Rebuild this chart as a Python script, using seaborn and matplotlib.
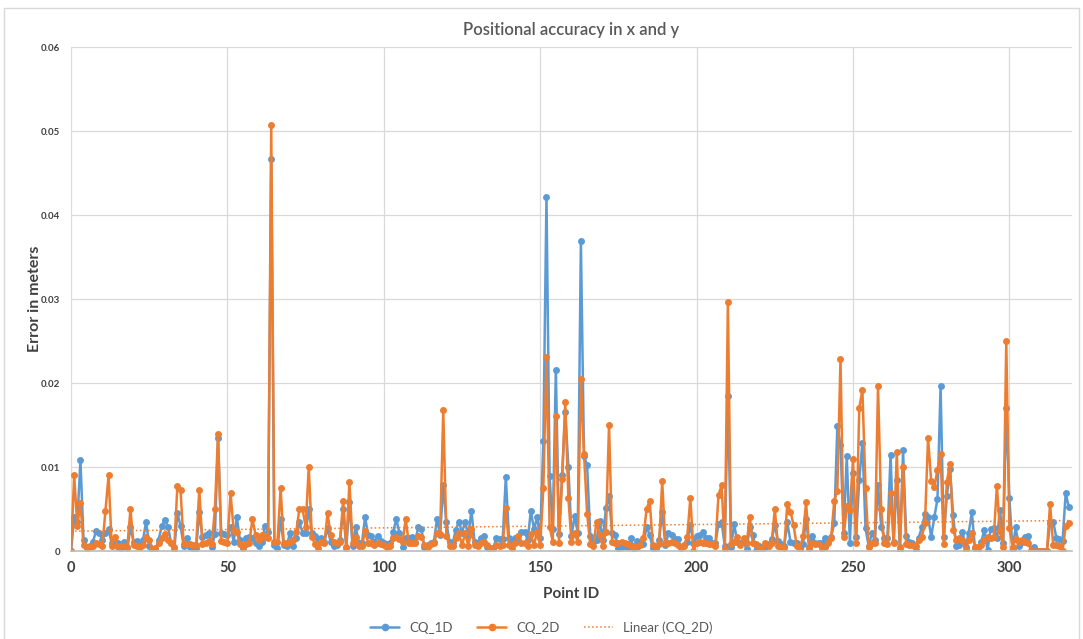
import numpy as np
import pandas as pd
import matplotlib
matplotlib.use("Agg")
import matplotlib.pyplot as plt
import seaborn as sns
from matplotlib.lines import Line2D
from matplotlib.patches import Rectangle
from matplotlib.ticker import FuncFormatter, MultipleLocator

sns.set_theme(style="whitegrid")
plt.rcParams['font.family'] = ['Lato', 'DejaVu Sans']

# Error values (meters), one per Point ID 0..319
cq_1d = [
    0.0000, 0.0040, 0.0035, 0.0108, 0.0013, 0.0003, 0.0006, 0.0011, 0.0024, 0.0021,
    0.0013, 0.0021, 0.0026, 0.0009, 0.0010, 0.0009, 0.0003, 0.0011, 0.0003, 0.0028,
    0.0011, 0.0012, 0.0006, 0.0013, 0.0035, 0.0006, 0.0002, 0.0002, 0.0013, 0.0030,
    0.0037, 0.0029, 0.0009, 0.0001, 0.0045, 0.0030, 0.0006, 0.0015, 0.0005, 0.0003,
    0.0003, 0.0046, 0.0017, 0.0019, 0.0022, 0.0005, 0.0020, 0.0134, 0.0021, 0.0020,
    0.0019, 0.0029, 0.0011, 0.0040, 0.0013, 0.0003, 0.0016, 0.0017, 0.0016, 0.0009,
    0.0006, 0.0011, 0.0030, 0.0023, 0.0467, 0.0007, 0.0003, 0.0038, 0.0007, 0.0006,
    0.0022, 0.0006, 0.0016, 0.0034, 0.0022, 0.0022, 0.0050, 0.0021, 0.0018, 0.0012,
    0.0016, 0.0011, 0.0027, 0.0011, 0.0006, 0.0007, 0.0013, 0.0050, 0.0003, 0.0058,
    0.0006, 0.0029, 0.0010, 0.0009, 0.0040, 0.0019, 0.0018, 0.0011, 0.0018, 0.0012,
    0.0010, 0.0008, 0.0009, 0.0023, 0.0038, 0.0021, 0.0005, 0.0016, 0.0016, 0.0017,
    0.0011, 0.0028, 0.0026, 0.0005, 0.0007, 0.0010, 0.0011, 0.0038, 0.0019, 0.0078,
    0.0034, 0.0011, 0.0009, 0.0025, 0.0035, 0.0022, 0.0035, 0.0018, 0.0048, 0.0011,
    0.0009, 0.0016, 0.0018, 0.0005, 0.0003, 0.0003, 0.0016, 0.0014, 0.0014, 0.0088,
    0.0016, 0.0010, 0.0016, 0.0013, 0.0023, 0.0023, 0.0013, 0.0048, 0.0026, 0.0040,
    0.0016, 0.0131, 0.0422, 0.0089, 0.0026, 0.0216, 0.0020, 0.0090, 0.0166, 0.0100,
    0.0018, 0.0042, 0.0021, 0.0369, 0.0113, 0.0102, 0.0018, 0.0011, 0.0013, 0.0036,
    0.0013, 0.0051, 0.0065, 0.0021, 0.0019, 0.0003, 0.0005, 0.0006, 0.0005, 0.0015,
    0.0002, 0.0012, 0.0010, 0.0008, 0.0029, 0.0019, 0.0003, 0.0003, 0.0013, 0.0047,
    0.0007, 0.0021, 0.0019, 0.0014, 0.0014, 0.0003, 0.0007, 0.0011, 0.0031, 0.0009,
    0.0018, 0.0019, 0.0023, 0.0015, 0.0015, 0.0010, 0.0009, 0.0032, 0.0034, 0.0006,
    0.0185, 0.0005, 0.0032, 0.0011, 0.0009, 0.0011, 0.0002, 0.0029, 0.0019, 0.0000,
    0.0006, 0.0003, 0.0005, 0.0008, 0.0014, 0.0031, 0.0012, 0.0008, 0.0006, 0.0034,
    0.0011, 0.0010, 0.0009, 0.0003, 0.0008, 0.0038, 0.0005, 0.0018, 0.0009, 0.0010,
    0.0009, 0.0015, 0.0013, 0.0017, 0.0033, 0.0149, 0.0126, 0.0021, 0.0113, 0.0010,
    0.0093, 0.0017, 0.0085, 0.0129, 0.0027, 0.0006, 0.0021, 0.0013, 0.0079, 0.0029,
    0.0016, 0.0016, 0.0114, 0.0011, 0.0085, 0.0001, 0.0120, 0.0018, 0.0011, 0.0010,
    0.0001, 0.0016, 0.0028, 0.0044, 0.0040, 0.0017, 0.0040, 0.0062, 0.0196, 0.0017,
    0.0065, 0.0098, 0.0043, 0.0006, 0.0007, 0.0023, 0.0005, 0.0022, 0.0046, 0.0003,
    0.0001, 0.0011, 0.0025, 0.0001, 0.0026, 0.0027, 0.0015, 0.0049, 0.0009, 0.0170,
    0.0063, 0.0002, 0.0028, 0.0006, 0.0011, 0.0017, 0.0018, 0.0000, 0.0005, 0.0000,
    0.0000, 0.0000, 0.0000, 0.0033, 0.0035, 0.0016, 0.0014, 0.0012, 0.0069, 0.0052,
]

cq_2d = [
    0.0000, 0.0090, 0.0030, 0.0057, 0.0007, 0.0005, 0.0005, 0.0006, 0.0010, 0.0008,
    0.0006, 0.0048, 0.0090, 0.0006, 0.0017, 0.0005, 0.0006, 0.0006, 0.0005, 0.0050,
    0.0007, 0.0006, 0.0005, 0.0007, 0.0017, 0.0013, 0.0002, 0.0003, 0.0009, 0.0016,
    0.0020, 0.0013, 0.0010, 0.0005, 0.0077, 0.0073, 0.0008, 0.0008, 0.0008, 0.0007,
    0.0007, 0.0073, 0.0008, 0.0009, 0.0012, 0.0008, 0.0050, 0.0139, 0.0012, 0.0011,
    0.0010, 0.0069, 0.0024, 0.0023, 0.0008, 0.0005, 0.0008, 0.0010, 0.0038, 0.0019,
    0.0013, 0.0019, 0.0017, 0.0015, 0.0507, 0.0011, 0.0011, 0.0075, 0.0010, 0.0010,
    0.0011, 0.0013, 0.0023, 0.0050, 0.0050, 0.0029, 0.0100, 0.0017, 0.0008, 0.0004,
    0.0011, 0.0009, 0.0045, 0.0019, 0.0011, 0.0010, 0.0011, 0.0060, 0.0005, 0.0082,
    0.0009, 0.0017, 0.0006, 0.0006, 0.0024, 0.0010, 0.0009, 0.0007, 0.0009, 0.0008,
    0.0007, 0.0005, 0.0006, 0.0015, 0.0017, 0.0014, 0.0011, 0.0038, 0.0009, 0.0010,
    0.0009, 0.0018, 0.0017, 0.0007, 0.0005, 0.0008, 0.0009, 0.0022, 0.0020, 0.0168,
    0.0018, 0.0006, 0.0006, 0.0016, 0.0021, 0.0007, 0.0021, 0.0006, 0.0026, 0.0007,
    0.0006, 0.0009, 0.0011, 0.0007, 0.0002, 0.0003, 0.0007, 0.0006, 0.0007, 0.0051,
    0.0007, 0.0003, 0.0009, 0.0018, 0.0010, 0.0009, 0.0006, 0.0020, 0.0007, 0.0023,
    0.0007, 0.0075, 0.0231, 0.0029, 0.0011, 0.0161, 0.0010, 0.0086, 0.0177, 0.0063,
    0.0011, 0.0021, 0.0011, 0.0205, 0.0116, 0.0044, 0.0008, 0.0006, 0.0035, 0.0019,
    0.0006, 0.0023, 0.0150, 0.0011, 0.0009, 0.0010, 0.0011, 0.0010, 0.0008, 0.0006,
    0.0006, 0.0005, 0.0007, 0.0016, 0.0050, 0.0060, 0.0007, 0.0005, 0.0008, 0.0083,
    0.0009, 0.0009, 0.0011, 0.0009, 0.0007, 0.0005, 0.0006, 0.0017, 0.0063, 0.0000,
    0.0009, 0.0011, 0.0010, 0.0009, 0.0008, 0.0008, 0.0006, 0.0067, 0.0078, 0.0002,
    0.0296, 0.0008, 0.0011, 0.0017, 0.0007, 0.0016, 0.0009, 0.0040, 0.0009, 0.0008,
    0.0003, 0.0002, 0.0009, 0.0006, 0.0010, 0.0050, 0.0006, 0.0005, 0.0004, 0.0056,
    0.0047, 0.0031, 0.0006, 0.0001, 0.0018, 0.0058, 0.0003, 0.0010, 0.0008, 0.0008,
    0.0003, 0.0005, 0.0010, 0.0015, 0.0060, 0.0072, 0.0229, 0.0017, 0.0053, 0.0049,
    0.0109, 0.0009, 0.0170, 0.0192, 0.0075, 0.0005, 0.0010, 0.0010, 0.0196, 0.0050,
    0.0009, 0.0008, 0.0069, 0.0009, 0.0118, 0.0005, 0.0100, 0.0008, 0.0007, 0.0007,
    0.0006, 0.0013, 0.0017, 0.0033, 0.0135, 0.0083, 0.0076, 0.0097, 0.0115, 0.0008,
    0.0082, 0.0104, 0.0025, 0.0013, 0.0015, 0.0013, 0.0001, 0.0013, 0.0021, 0.0005,
    0.0005, 0.0007, 0.0013, 0.0017, 0.0016, 0.0017, 0.0077, 0.0024, 0.0005, 0.0250,
    0.0027, 0.0005, 0.0014, 0.0011, 0.0013, 0.0011, 0.0009, 0.0000, 0.0000, 0.0000,
    0.0000, 0.0000, 0.0000, 0.0056, 0.0007, 0.0007, 0.0006, 0.0000, 0.0030, 0.0033,
]

point_id = np.arange(len(cq_1d))
series_names = ['CQ_1D', 'CQ_2D']
colors = {'CQ_1D': '#5B9BD5', 'CQ_2D': '#ED7D31'}

df = pd.DataFrame({
    'Point ID': np.concatenate([point_id, point_id]),
    'Error': cq_1d + cq_2d,
    'Series': ['CQ_1D'] * len(cq_1d) + ['CQ_2D'] * len(cq_2d),
})

fig = plt.figure(figsize=(10.83, 6.39), dpi=100)
ax = fig.add_axes([0.0656, 0.1377, 0.9242, 0.7887])

sns.lineplot(data=df, x='Point ID', y='Error', hue='Series', hue_order=series_names,
             palette=colors, marker='o', markersize=5, markeredgewidth=0,
             linewidth=1.8, ax=ax, legend=False)

# Linear trend line of CQ_2D
sns.regplot(data=df[df['Series'] == 'CQ_2D'], x='Point ID', y='Error', scatter=False,
            ci=None, ax=ax, line_kws={'color': '#ED7D31', 'linestyle': ':', 'linewidth': 1.1})

ax.set_xlim(0, 320)
ax.set_ylim(0, 0.06)
ax.xaxis.set_major_locator(MultipleLocator(50))
ax.yaxis.set_major_locator(MultipleLocator(0.01))
ax.yaxis.set_major_formatter(FuncFormatter(lambda v, p: f"{v:g}"))
ax.grid(True, color='#d9d9d9', linewidth=0.9)
for side in ['top', 'right', 'left']:
    ax.spines[side].set_visible(False)
ax.spines['bottom'].set_color('#bfbfbf')
ax.tick_params(axis='x', labelsize=10.5, labelcolor='#404040', pad=7, length=0)
ax.tick_params(axis='y', labelsize=7, labelcolor='#404040', pad=8, length=0)
for lbl in ax.get_xticklabels() + ax.get_yticklabels():
    lbl.set_fontweight('bold')

ax.set_xlabel('Point ID', fontsize=11, fontweight='bold', color='#404040', labelpad=9)
ax.set_ylabel('Error in meters', fontsize=11.5, fontweight='bold', color='#404040', labelpad=-1)
ax.set_title('Positional accuracy in x and y', fontsize=12, fontweight='semibold',
             color='#595959', pad=9)

handles = [
    Line2D([], [], color='#5B9BD5', marker='o', markersize=4.5, linewidth=1.8),
    Line2D([], [], color='#ED7D31', marker='o', markersize=4.5, linewidth=1.8),
    Line2D([], [], color='#ED7D31', linestyle=':', linewidth=1.1),
]
fig.legend(handles, ['CQ_1D', 'CQ_2D', 'Linear (CQ_2D)'], loc='center',
           bbox_to_anchor=(0.5, 0.018), ncol=3, frameon=False, fontsize=9.5,
           labelcolor='#595959', handlelength=2.2, columnspacing=1.8)

fig.patches.append(Rectangle((0.004, -0.01), 0.992, 0.997, transform=fig.transFigure,
                             fill=False, edgecolor='#d9d9d9', linewidth=1))

fig.savefig('out.png', dpi=100)
